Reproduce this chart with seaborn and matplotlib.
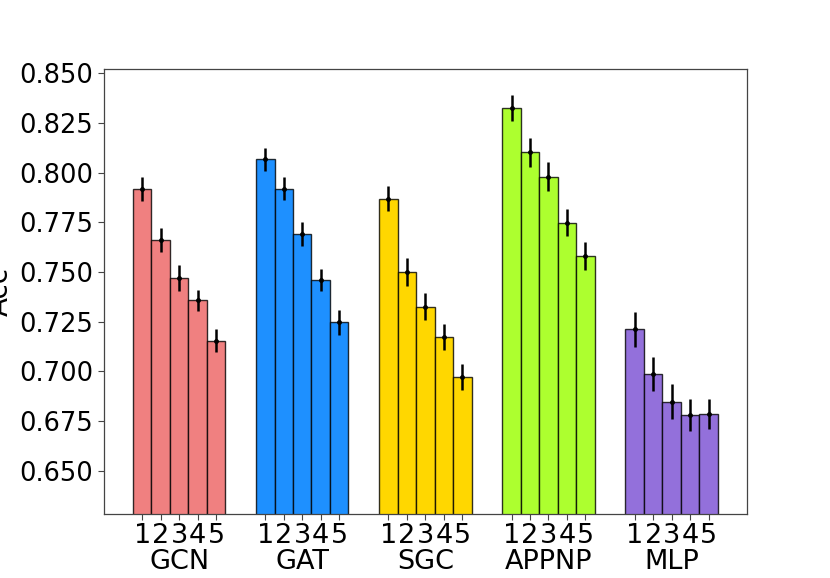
import numpy as np
import pandas as pd
import matplotlib
matplotlib.use("Agg")
import matplotlib.pyplot as plt
import seaborn as sns

models = ["GCN", "GAT", "SGC", "APPNP", "MLP"]
layers = ["1", "2", "3", "4", "5"]
colors = ["#F08080", "#1E90FF", "#FFD700", "#ADFF2F", "#9370DB"]

acc_gcn = [0.7917, 0.7661, 0.7471, 0.7357, 0.7155]
acc_gat = [0.8067, 0.7920, 0.7691, 0.7459, 0.7246]
acc_sgc = [0.7868, 0.7500, 0.7325, 0.7172, 0.6970]
acc_appnp = [0.8327, 0.8102, 0.7979, 0.7747, 0.7582]
acc_mlp = [0.7211, 0.6987, 0.6848, 0.6780, 0.6785]

err_gcn = [0.0061, 0.0062, 0.0065, 0.0055, 0.0060]
err_gat = [0.0059, 0.0059, 0.0060, 0.0057, 0.0065]
err_sgc = [0.0063, 0.0069, 0.0068, 0.0064, 0.0065]
err_appnp = [0.0066, 0.0071, 0.0073, 0.0068, 0.0071]
err_mlp = [0.0086, 0.0087, 0.0087, 0.0081, 0.0077]

yticks = [0.650, 0.675, 0.700, 0.725, 0.750, 0.775, 0.800, 0.825, 0.850]

accs = [acc_gcn, acc_gat, acc_sgc, acc_appnp, acc_mlp]
errs = [err_gcn, err_gat, err_sgc, err_appnp, err_mlp]

rows = []
for m, a, e in zip(models, accs, errs):
    for l, av, ev in zip(layers, a, e):
        rows.append({"model": m, "layer": l, "acc": av, "err": ev})
df = pd.DataFrame(rows)

sns.set_style("ticks")
plt.rcParams["font.family"] = ["DejaVu Sans"]
plt.rcParams["text.color"] = "black"
plt.rcParams["xtick.color"] = "black"
plt.rcParams["ytick.color"] = "black"
plt.rcParams["axes.labelcolor"] = "black"

fig, ax = plt.subplots(figsize=(8.3, 5.78), dpi=100)
sns.barplot(data=df, x="model", y="acc", hue="layer", order=models,
            hue_order=layers, errorbar=None, width=0.75, ax=ax,
            edgecolor=(0, 0, 0, 0.8), linewidth=1.0, legend=False,
            saturation=1)

tick_pos = []
tick_lab = []
for li, cont in enumerate(ax.containers):
    for mi, bar in enumerate(cont):
        bar.set_facecolor(colors[mi])
for mi, m in enumerate(models):
    for li, l in enumerate(layers):
        bar = ax.containers[li][mi]
        cx = bar.get_x() + bar.get_width() / 2
        ax.errorbar(cx, accs[mi][li], yerr=errs[mi][li], fmt=".", color="k",
                    elinewidth=1.8, markersize=5, capsize=0)
        tick_pos.append(cx)
        tick_lab.append(l + ("\n" + m if li == 2 else ""))

ax.set_xticks(tick_pos)
ax.set_xticklabels(tick_lab, fontsize=19.5, linespacing=1.0, color="black")
ax.set_yticks(yticks)
ax.set_yticklabels([f"{v:.3f}" for v in yticks], fontsize=18.5, color="black")
ax.set_ylim(0.628, 0.852)
ax.set_xlim(-0.6125, 4.6125)
ax.set_xlabel("")
ax.set_ylabel("Acc", fontsize=20, color="black")
for s in ax.spines.values():
    s.set_color("#444444")
    s.set_linewidth(0.9)
ax.tick_params(axis="both", length=4, width=0.8, color="#444444")
ax.tick_params(axis="x", pad=2)

fig.subplots_adjust(left=0.125, right=0.9, bottom=0.11, top=0.88)
fig.savefig("out.png", dpi=100)
